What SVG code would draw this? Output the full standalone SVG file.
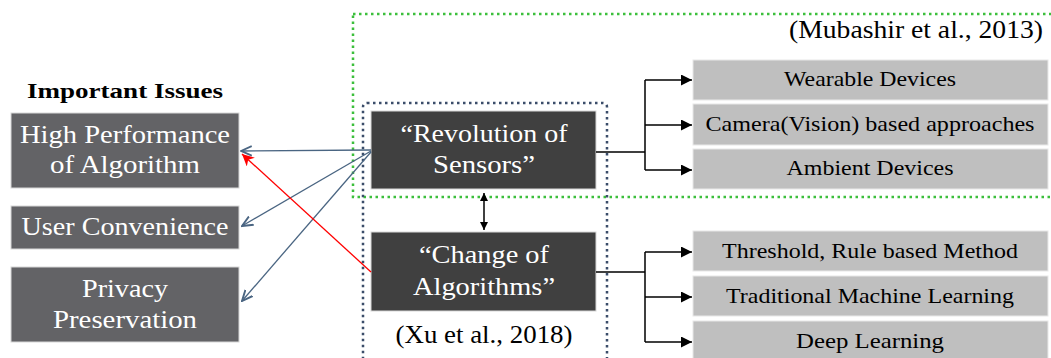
<svg xmlns="http://www.w3.org/2000/svg" width="1051" height="358" viewBox="0 0 1051 358">
<style>
text{font-family:"Liberation Serif","DejaVu Serif",serif}
.lb{fill:#636366;stroke:#d8d8d8;stroke-width:1}
.cb{fill:#404040;stroke:#d8d8d8;stroke-width:1}
.rb{fill:#bfbfbf;stroke:#e8e8e8;stroke-width:1}
.lt{fill:#fff;font-size:25px;text-anchor:middle}
.rt{fill:#000;font-size:21px;text-anchor:middle}
.blk{stroke:#000;stroke-width:1.5;fill:none}
.blue{stroke:#4a6582;stroke-width:1.3;fill:none}
</style>
<defs>
<marker id="ab" viewBox="0 0 10 10" refX="10" refY="5" markerWidth="8" markerHeight="8" markerUnits="userSpaceOnUse" orient="auto-start-reverse"><path d="M0,0 L10,5 L0,10 z" fill="#000"/></marker>
<marker id="abig" viewBox="0 0 10 10" refX="10" refY="5" markerWidth="11" markerHeight="11" markerUnits="userSpaceOnUse" orient="auto"><path d="M0,0 L10,5 L0,10 z" fill="#000"/></marker>
<marker id="ablue" viewBox="0 0 10 10" refX="9" refY="5" markerWidth="12" markerHeight="12" markerUnits="userSpaceOnUse" orient="auto"><path d="M0,1 L9,5 L0,9" fill="none" stroke="#4a6582" stroke-width="1.6"/></marker>
<marker id="ared" viewBox="0 0 10 10" refX="10" refY="5" markerWidth="12" markerHeight="12" markerUnits="userSpaceOnUse" orient="auto"><path d="M0,0 L10,5 L0,10 L3,5 z" fill="#ff0000"/></marker>
</defs>
<rect width="1051" height="358" fill="#fff"/>

<g id="groups">
<rect x="353" y="14" width="710" height="183" fill="none" stroke="#3cbf3c" stroke-width="2.5" stroke-dasharray="2.5 3.5"/>
<rect x="363" y="103" width="244" height="270" rx="4" fill="none" stroke="#3b4d6a" stroke-width="2.5" stroke-dasharray="2.5 3.5"/>
<text x="1043" y="38" font-size="25" text-anchor="end" textLength="254" lengthAdjust="spacingAndGlyphs">(Mubashir et al., 2013)</text>
<text x="484" y="343" font-size="25" text-anchor="middle" textLength="177" lengthAdjust="spacingAndGlyphs">(Xu et al., 2018)</text>
</g>

<text x="125" y="98" font-size="22" font-weight="bold" text-anchor="middle" textLength="196" lengthAdjust="spacingAndGlyphs">Important Issues</text>

<g id="issue-performance">
<rect class="lb" x="11" y="113" width="228" height="75"/>
<text class="lt" x="125" y="143" textLength="210" lengthAdjust="spacingAndGlyphs">High Performance</text>
<text class="lt" x="125" y="173" textLength="150" lengthAdjust="spacingAndGlyphs">of Algorithm</text>
</g>
<g id="issue-convenience">
<rect class="lb" x="11" y="206" width="228" height="43"/>
<text class="lt" x="125" y="235" textLength="207" lengthAdjust="spacingAndGlyphs">User Convenience</text>
</g>
<g id="issue-privacy">
<rect class="lb" x="11" y="267" width="228" height="75"/>
<text class="lt" x="125" y="297" textLength="86" lengthAdjust="spacingAndGlyphs">Privacy</text>
<text class="lt" x="125" y="328" textLength="144" lengthAdjust="spacingAndGlyphs">Preservation</text>
</g>

<g id="revolution">
<rect class="cb" x="371" y="111" width="225" height="78"/>
<text class="lt" x="484" y="142" textLength="167" lengthAdjust="spacingAndGlyphs">“Revolution of</text>
<text class="lt" x="484" y="173" textLength="102" lengthAdjust="spacingAndGlyphs">Sensors”</text>
</g>
<g id="change">
<rect class="cb" x="371" y="232" width="225" height="79"/>
<text class="lt" x="484" y="263" textLength="130" lengthAdjust="spacingAndGlyphs">“Change of</text>
<text class="lt" x="484" y="295" textLength="142" lengthAdjust="spacingAndGlyphs">Algorithms”</text>
</g>

<g id="wearable"><rect class="rb" x="693" y="60" width="355" height="40"/><text class="rt" x="870" y="86" textLength="172" lengthAdjust="spacingAndGlyphs">Wearable Devices</text></g>
<g id="camera"><rect class="rb" x="693" y="104" width="355" height="41"/><text class="rt" x="870" y="131" textLength="329" lengthAdjust="spacingAndGlyphs">Camera(Vision) based approaches</text></g>
<g id="ambient"><rect class="rb" x="693" y="149" width="355" height="40"/><text class="rt" x="870" y="175" textLength="167" lengthAdjust="spacingAndGlyphs">Ambient Devices</text></g>
<g id="threshold"><rect class="rb" x="693" y="231" width="355" height="40"/><text class="rt" x="870" y="258" textLength="296" lengthAdjust="spacingAndGlyphs">Threshold, Rule based Method</text></g>
<g id="traditional"><rect class="rb" x="693" y="276" width="355" height="40"/><text class="rt" x="870" y="303" textLength="288" lengthAdjust="spacingAndGlyphs">Traditional Machine Learning</text></g>
<g id="deep"><rect class="rb" x="693" y="321" width="355" height="40"/><text class="rt" x="870" y="348" textLength="148" lengthAdjust="spacingAndGlyphs">Deep Learning</text></g>

<g id="connectors">
<path class="blk" d="M484,193 V230" marker-start="url(#ab)" marker-end="url(#ab)"/>
<path class="blk" d="M596,152 H645 M645,80 V170"/>
<path class="blk" d="M645,80 H692" marker-end="url(#abig)"/>
<path class="blk" d="M645,125 H692" marker-end="url(#abig)"/>
<path class="blk" d="M645,170 H692" marker-end="url(#abig)"/>
<path class="blk" d="M596,272 H645 M645,252 V342"/>
<path class="blk" d="M645,252 H692" marker-end="url(#abig)"/>
<path class="blk" d="M645,297 H692" marker-end="url(#abig)"/>
<path class="blk" d="M645,342 H692" marker-end="url(#abig)"/>
<path class="blue" d="M371,150 L241,151" marker-end="url(#ablue)"/>
<path class="blue" d="M371,151 L242,226" marker-end="url(#ablue)"/>
<path class="blue" d="M371,152 L242,301" marker-end="url(#ablue)"/>
<path d="M371,272 L242,154" stroke="#ff0000" stroke-width="1.3" fill="none" marker-end="url(#ared)"/>
</g>
</svg>
